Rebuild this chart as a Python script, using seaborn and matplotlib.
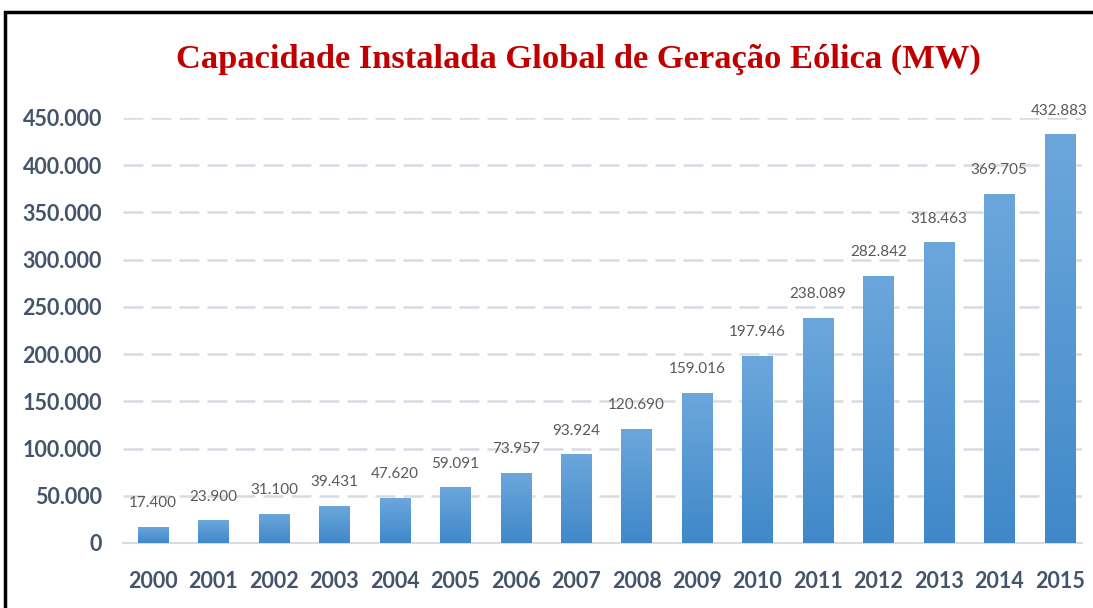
import numpy as np
import pandas as pd
import seaborn as sns
import matplotlib.pyplot as plt
from matplotlib.patches import Rectangle
from matplotlib.colors import LinearSegmentedColormap
from matplotlib.ticker import FuncFormatter

# Data
years = ["2000", "2001", "2002", "2003", "2004", "2005", "2006", "2007",
         "2008", "2009", "2010", "2011", "2012", "2013", "2014", "2015"]
capacity_mw = [17400, 23900, 31100, 39431, 47620, 59091, 73957, 93924,
               120690, 159016, 197946, 238089, 282842, 318463, 369705, 432883]
y_ticks = [0, 50000, 100000, 150000, 200000, 250000, 300000, 350000, 400000, 450000]

df = pd.DataFrame({"ano": years, "mw": capacity_mw})

def br_fmt(v):
    return f"{v:,.0f}".replace(",", ".")

sns.set_style("white")
plt.rcParams['font.family'] = ['Lato', 'DejaVu Sans']

fig = plt.figure(figsize=(10.93, 6.08), dpi=100)
ax = fig.add_axes([0.1123, 0.107, 0.99 - 0.1123, 0.806 - 0.107])

sns.barplot(data=df, x="ano", y="mw", color="#5B9BD5", width=0.5,
            saturation=1, ax=ax, zorder=2)

# vertical gradient on every bar (lighter top, darker bottom)
grad_cmap = LinearSegmentedColormap.from_list("bar", ["#4088C9", "#6CA7DC"])
grad = np.linspace(0, 1, 256).reshape(-1, 1)
for p in ax.patches:
    x0, y0 = p.get_x(), p.get_y()
    w, h = p.get_width(), p.get_height()
    im = ax.imshow(grad, cmap=grad_cmap, origin="lower", aspect="auto",
                   extent=[x0, x0 + w, y0, y0 + h], zorder=3)
    im.set_clip_path(p)

for i, v in enumerate(capacity_mw):
    ax.annotate(br_fmt(v), (i, v), xytext=(0, 17), textcoords="offset points",
                ha="center", va="center", fontsize=11, color="#595959",
                annotation_clip=False, zorder=4)

ax.set_xlim(-0.5, 15.37)
ax.set_ylim(0, 450000)
ax.set_yticks(y_ticks)
ax.yaxis.set_major_formatter(FuncFormatter(lambda v, _: br_fmt(v)))

ax.yaxis.grid(True, color="#D6DCE4", linewidth=1.8,
              linestyle=(0, (8.0, 3.2)), zorder=0)
ax.set_axisbelow(True)
for s in ["top", "right", "left"]:
    ax.spines[s].set_visible(False)
ax.spines["bottom"].set_color("#D6DCE4")
ax.spines["bottom"].set_linewidth(1.5)

ax.set_xlabel("")
ax.set_ylabel("")
ax.tick_params(axis="y", length=0, pad=15, labelsize=15.5, labelcolor="#44546A")
ax.tick_params(axis="x", length=0, pad=20, labelsize=15.5, labelcolor="#44546A")
for lab in ax.get_xticklabels() + ax.get_yticklabels():
    lab.set_fontweight("bold")

fig.text(0.529, 0.902, "Capacidade Instalada Global de Geração Eólica (MW)",
         ha="center", va="center", fontsize=24.8, fontweight="bold",
         color="#C00000", family="Liberation Serif")

# black frame around the picture
fig.patches.append(Rectangle((5 / 1093, -0.2), 1.2, 1.2 - 12 / 608,
                             transform=fig.transFigure, fill=False,
                             edgecolor="black", linewidth=2.5, zorder=10))

fig.savefig("out.png", dpi=100)
